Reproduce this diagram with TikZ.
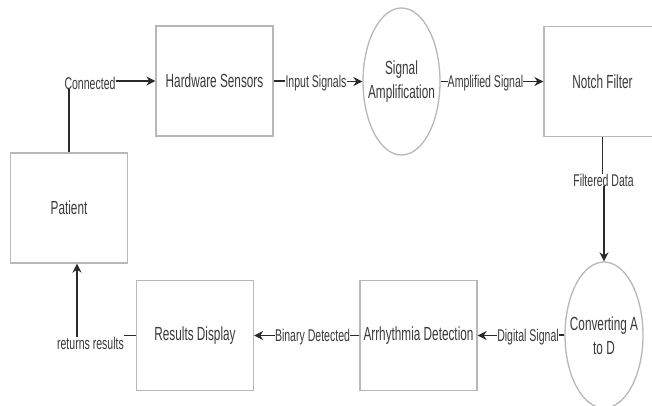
\documentclass[tikz,border=0pt]{standalone}
\usepackage{fontspec}
\setmainfont[FakeStretch=0.62]{Liberation Sans}
\usetikzlibrary{shapes.geometric,arrows.meta}
\definecolor{boxline}{HTML}{B8B8B8}
\definecolor{txtcol}{HTML}{3A3A3A}
\definecolor{linecol}{HTML}{2A2A2A}
\tikzset{
  x=1pt, y=-1pt,
  boxnode/.style={draw=boxline, line width=1.3pt, minimum width=117pt, minimum height=110pt, inner sep=0pt,
     font=\fontsize{19}{24}\selectfont, text=txtcol},
  ellnode/.style={ellipse, draw=boxline, line width=1.3pt, minimum width=77pt, minimum height=147pt, inner sep=0pt},
  bigtxt/.style={font=\fontsize{19}{24}\selectfont, text=txtcol, align=center, inner sep=0pt},
  lbl/.style={font=\fontsize{17}{20}\selectfont, text=txtcol, inner sep=0pt, fill=white},
  conn/.style={draw=linecol, line width=1.3pt},
  arr/.style={conn, -{Stealth[length=9pt,width=9pt]}}
}
\begin{document}
\begin{tikzpicture}
\useasboundingbox (0,0) rectangle (652,406);
\clip (0,0) rectangle (652,406);
\fill[white] (0,0) rectangle (652,406);
% nodes
\node[boxnode] (pat) at (69,208) {Patient};
\node[boxnode] (hs) at (214.5,81) {Hardware Sensors};
\node[ellnode] (sa) at (401.5,81.5) {};
\node[bigtxt] (satxt) at (401.5,82) {Signal\\Amplification};
\node[boxnode] (nf) at (602.5,81.5) {Notch Filter};
\node[ellnode, minimum width=78pt, minimum height=146pt] (ad) at (604,335) {};
\node[bigtxt] (adtxt) at (604,336) {Converting A\\to D};
\node[boxnode] (arr) at (418.5,335.5) {Arrhythmia Detection};
\node[boxnode] (rd) at (195,335.5) {Results Display};
% labels
\node[lbl] (lcon) at (90,83) {Connected};
\node[lbl] (lin) at (316,83) {Input Signals};
\node[lbl] (lamp) at (485.5,83) {Amplified Signal};
\node[lbl] (lfd) at (603.5,180) {Filtered Data};
\node[lbl] (ldig) at (528,337) {Digital Signal};
\node[lbl] (lbin) at (312.5,337) {Binary Detected};
\node[lbl] (lret) at (90.5,343) {returns results};
% connectors
\draw[conn] (pat.north) -- (pat.north |- lcon.south);
\draw[arr] (lcon.east |- hs.west) -- (hs.west);
\draw[conn] (hs.east) -- (hs.east -| lin.west);
\draw[arr] (lin.east |- sa.west) -- (sa.west);
\draw[conn] (sa.east) -- (sa.east -| lamp.west);
\draw[arr] (lamp.east |- nf.west) -- (nf.west);
\draw[conn] (lfd.north -| nf.south) -- (nf.south);
\draw[arr] (lfd.south -| ad.north) -- (ad.north);
\draw[conn] (ad.west) -- (ad.west -| ldig.east);
\draw[arr] (ldig.west |- arr.east) -- (arr.east);
\draw[conn] (arr.west) -- (arr.west -| lbin.east);
\draw[arr] (lbin.west |- rd.east) -- (rd.east);
\draw[conn] (rd.west) -- (rd.west -| lret.east);
\draw[arr] ([xshift=8pt]pat.south |- lret.north) -- ([xshift=8pt]pat.south);
\end{tikzpicture}
\end{document}
